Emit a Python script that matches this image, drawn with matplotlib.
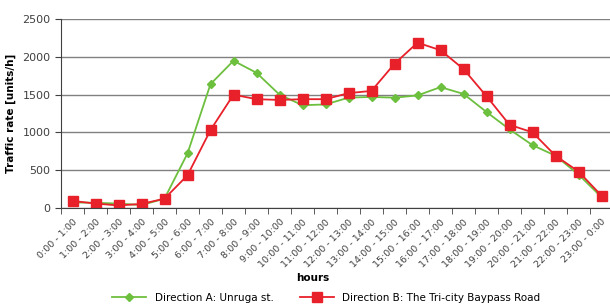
import matplotlib
matplotlib.use('Agg')
import matplotlib.pyplot as plt

# hourly intervals
hours = ['0:00 - 1:00', '1:00 - 2:00', '2:00 - 3:00', '3:00 - 4:00', '4:00 - 5:00',
         '5:00 - 6:00', '6:00 - 7:00', '7:00 - 8:00', '8:00 - 9:00', '9:00 - 10:00',
         '10:00 - 11:00', '11:00 - 12:00', '12:00 - 13:00', '13:00 - 14:00',
         '14:00 - 15:00', '15:00 - 16:00', '16:00 - 17:00', '17:00 - 18:00',
         '18:00 - 19:00', '19:00 - 20:00', '20:00 - 21:00', '21:00 - 22:00',
         '22:00 - 23:00', '23:00 - 0:00']

# traffic rate [units/h]
direction_a = [70, 65, 55, 35, 120, 720, 1640, 1950, 1790, 1500, 1360, 1370,
               1460, 1470, 1460, 1490, 1600, 1510, 1270, 1040, 830, 690, 440, 140]
direction_b = [90, 55, 30, 50, 120, 430, 1030, 1500, 1440, 1430, 1440, 1440,
               1520, 1550, 1910, 2190, 2090, 1840, 1480, 1100, 1000, 690, 480, 160]

green = '#6dbf3e'
red = '#e8202a'

fig = plt.figure(figsize=(6.1, 3.06), dpi=100)
ax = fig.add_axes([61/610, 1-207.7/306, 552/610, 188.4/306])

x = range(len(hours))
ax.plot(x, direction_a, color=green, lw=1.3, marker='D', markersize=4.2,
        label='Direction A: Unruga st.')
ax.plot(x, direction_b, color=red, lw=1.3, marker='s', markersize=7,
        label='Direction B: The Tri-city Baypass Road')

ax.set_xlim(-0.5, len(hours)-0.5)
ax.set_ylim(0, 2500)
ax.set_yticks([0, 500, 1000, 1500, 2000, 2500])
ax.yaxis.grid(True, color='#808080', lw=1.0)
ax.set_axisbelow(True)

ax.set_xticks(list(x))
ax.set_xticklabels(hours, rotation=45, ha='right', rotation_mode='anchor',
                   fontsize=6.8, color='#404040')
ax.set_xticks([i - 0.5 for i in range(len(hours)+1)], minor=True)
ax.tick_params(axis='x', which='major', length=0, pad=7)
ax.tick_params(axis='x', which='minor', length=4, color='#404040')
ax.tick_params(axis='y', length=4, color='#404040', labelsize=8, labelcolor='#404040')

for s in ['top', 'right']:
    ax.spines[s].set_visible(False)
ax.spines['left'].set_color('#404040')
ax.spines['bottom'].set_color('#404040')

ax.set_ylabel('Traffic rate [units/h]', fontsize=7.5, fontweight='bold', labelpad=5)
fig.text(313/610, 1-278/306, 'hours', fontsize=7.5,
         fontweight='bold', ha='center', va='center')

fig.legend(loc='center', bbox_to_anchor=(0.535, 1-298/306), ncol=2, frameon=False,
           fontsize=7.5, handlelength=3.3, columnspacing=2.5, handletextpad=0.8)

fig.savefig('out.png', dpi=100)
